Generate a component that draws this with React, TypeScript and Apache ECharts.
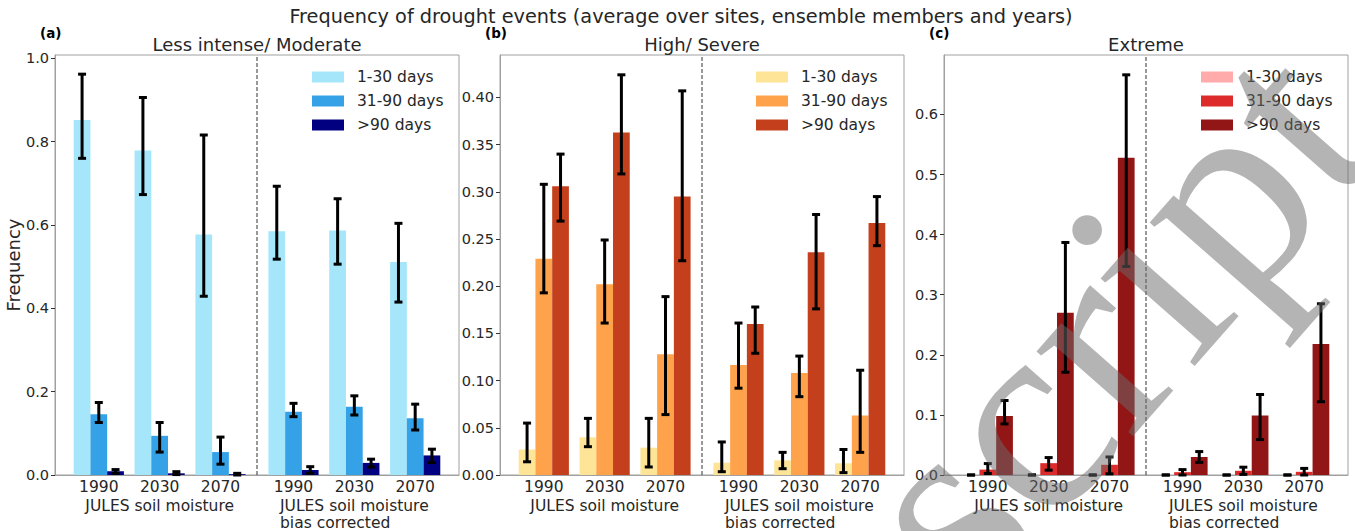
import React, { useEffect, useRef } from "react";
import * as echarts from "echarts";

// ---------- data ----------
const periods = ["1990", "2030", "2070", "1990", "2030", "2070"];
const groupX = [0, 1, 2, 3.2, 4.2, 5.2];
const dividerX = 2.6;
const durations = ["1-30 days", "31-90 days", ">90 days"];
const panelTitles = ["Less intense/ Moderate", "High/ Severe", "Extreme"];
const panelTags = ["(a)", "(b)", "(c)"];
const sourceLabels = ["JULES soil moisture", "JULES soil moisture\nbias corrected"];
const mainTitle = "Frequency of drought events (average over sites, ensemble members and years)";
const watermark = "script";

// (a) Less intense / Moderate
const modShort = [0.852, 0.779, 0.577, 0.585, 0.587, 0.511];
const modShortLo = [0.76, 0.673, 0.429, 0.518, 0.506, 0.415];
const modShortHi = [0.962, 0.906, 0.816, 0.693, 0.663, 0.604];
const modMid = [0.146, 0.094, 0.055, 0.152, 0.164, 0.136];
const modMidLo = [0.126, 0.055, 0.026, 0.14, 0.144, 0.108];
const modMidHi = [0.174, 0.126, 0.091, 0.172, 0.19, 0.17];
const modLong = [0.009, 0.004, 0.002, 0.012, 0.029, 0.047];
const modLongLo = [0.004, 0.001, 0.0, 0.004, 0.019, 0.03];
const modLongHi = [0.013, 0.008, 0.004, 0.02, 0.038, 0.062];

// (b) High / Severe
const sevShort = [0.027, 0.04, 0.029, 0.013, 0.0155, 0.0124];
const sevShortLo = [0.014, 0.03, 0.0085, 0.0035, 0.0067, 0.0025];
const sevShortHi = [0.055, 0.06, 0.06, 0.035, 0.024, 0.027];
const sevMid = [0.229, 0.202, 0.128, 0.1165, 0.108, 0.063];
const sevMidLo = [0.193, 0.161, 0.064, 0.092, 0.083, 0.024];
const sevMidHi = [0.308, 0.249, 0.189, 0.161, 0.126, 0.111];
const sevLong = [0.306, 0.363, 0.295, 0.16, 0.236, 0.267];
const sevLongLo = [0.269, 0.319, 0.227, 0.129, 0.176, 0.243];
const sevLongHi = [0.34, 0.424, 0.407, 0.178, 0.276, 0.295];

// (c) Extreme
const extShort = [0, 0, 0, 0, 0, 0];
const extShortLo = [0, 0, 0, 0, 0, 0];
const extShortHi = [0, 0, 0, 0, 0, 0];
const extMid = [0.009, 0.0197, 0.017, 0.0047, 0.007, 0.0053];
const extMidLo = [0.0025, 0.008, 0.002, 0.0, 0.001, 0.0];
const extMidHi = [0.019, 0.029, 0.03, 0.009, 0.013, 0.011];
const extLong = [0.098, 0.27, 0.528, 0.03, 0.099, 0.218];
const extLongLo = [0.085, 0.171, 0.347, 0.021, 0.059, 0.122];
const extLongHi = [0.124, 0.387, 0.666, 0.039, 0.134, 0.285];

const panels = [
  [
    [modShort, modShortLo, modShortHi],
    [modMid, modMidLo, modMidHi],
    [modLong, modLongLo, modLongHi],
  ],
  [
    [sevShort, sevShortLo, sevShortHi],
    [sevMid, sevMidLo, sevMidHi],
    [sevLong, sevLongLo, sevLongHi],
  ],
  [
    [extShort, extShortLo, extShortHi],
    [extMid, extMidLo, extMidHi],
    [extLong, extLongLo, extLongHi],
  ],
];

const yMax = [1.008, 0.445, 0.699];
const yTicks = [
  [0, 0.2, 0.4, 0.6, 0.8, 1.0],
  [0, 0.05, 0.1, 0.15, 0.2, 0.25, 0.3, 0.35, 0.4],
  [0, 0.1, 0.2, 0.3, 0.4, 0.5, 0.6],
];
const yDecimals = [1, 2, 1];

// ---------- styles ----------
const palette = [
  ["#a6e6fb", "#35a2e8", "#000080"],
  ["#fee497", "#fea34b", "#c4401c"],
  ["#ffabab", "#dd2b2b", "#921616"],
];
const FONT = "DejaVu Sans";
const TXT = "#262626";
const gridLeft = [55, 500, 944];
const gridTop = 55;
const gridW = 404;
const gridH = 420;
const xMin = -0.72;
const xMax = 5.92;
const barW = 0.275;
const offsets = [-barW, 0, barW];
const legendLeft = [312, 756, 1201];

function makeRender(k: number, color: string) {
  return (params: any, api: any) => {
    const x = api.value(0) + offsets[k];
    const v = api.value(1);
    const lo = api.value(2);
    const hi = api.value(3);
    const a = api.coord([x - barW / 2, v]);
    const b = api.coord([x + barW / 2, 0]);
    const pl = api.coord([x, lo]);
    const ph = api.coord([x, hi]);
    const cap = 4;
    const eb = { stroke: "#000", lineWidth: 3 };
    return {
      type: "group",
      children: [
        {
          type: "rect",
          shape: { x: a[0], y: a[1], width: b[0] - a[0], height: b[1] - a[1] },
          style: { fill: color },
        },
        { type: "line", shape: { x1: pl[0], y1: pl[1], x2: ph[0], y2: ph[1] }, style: eb },
        { type: "line", shape: { x1: pl[0] - cap, y1: pl[1], x2: pl[0] + cap, y2: pl[1] }, style: eb },
        { type: "line", shape: { x1: ph[0] - cap, y1: ph[1], x2: ph[0] + cap, y2: ph[1] }, style: eb },
      ],
    };
  };
}

function buildOption() {
  const grid: any[] = [];
  const xAxis: any[] = [];
  const yAxis: any[] = [];
  const series: any[] = [];
  const legend: any[] = [];
  for (let p = 0; p < 3; p++) {
    grid.push({
      left: gridLeft[p],
      top: gridTop,
      width: gridW,
      height: gridH,
      show: true,
      borderColor: "#a0a0a0",
      borderWidth: 1,
      backgroundColor: "transparent",
    });
    xAxis.push({
      type: "value",
      gridIndex: p,
      min: xMin,
      max: xMax,
      splitLine: { show: false },
      axisLine: { show: true, onZero: false, lineStyle: { color: "#a0a0a0" } },
      axisTick: { show: false, customValues: groupX },
      axisLabel: {
        customValues: groupX,
        fontFamily: FONT,
        fontSize: 15.5,
        color: TXT,
        margin: 4,
        formatter: (v: number) => {
          const i = groupX.findIndex((g) => Math.abs(g - v) < 1e-6);
          return i >= 0 ? periods[i] : "";
        },
      },
    });
    const dec = yDecimals[p];
    yAxis.push({
      type: "value",
      gridIndex: p,
      min: 0,
      max: yMax[p],
      splitLine: { show: false },
      axisLine: { show: true, onZero: false, lineStyle: { color: "#a0a0a0" } },
      axisTick: { show: true, length: 4, customValues: yTicks[p], lineStyle: { color: "#333" } },
      axisLabel: {
        customValues: yTicks[p],
        fontFamily: FONT,
        fontSize: 14.5,
        color: TXT,
        margin: 6,
        formatter: (v: number) => v.toFixed(dec),
      },
      name: p === 0 ? "Frequency" : "",
      nameLocation: "middle",
      nameRotate: 90,
      nameGap: 30,
      nameTextStyle: { fontFamily: FONT, fontSize: 18, color: TXT },
    });
    const names: string[] = [];
    for (let k = 0; k < 3; k++) {
      const [vals, lo, hi] = panels[p][k];
      const name = `${p}|${durations[k]}`;
      names.push(name);
      series.push({
        type: "custom",
        name,
        xAxisIndex: p,
        yAxisIndex: p,
        itemStyle: { color: palette[p][k] },
        renderItem: makeRender(k, palette[p][k]),
        encode: { x: 0, y: 1 },
        data: vals.map((v, i) => [groupX[i], v, lo[i], hi[i]]),
        z: 2 + k,
      });
    }
    series.push({
      type: "line",
      xAxisIndex: p,
      yAxisIndex: p,
      data: [
        [dividerX, 0],
        [dividerX, yMax[p]],
      ],
      symbol: "none",
      silent: true,
      lineStyle: { color: "#333", width: 1, type: [4, 2] },
      z: 1,
    });
    legend.push({
      orient: "vertical",
      left: legendLeft[p],
      top: 69,
      padding: 0,
      itemGap: 8,
      itemWidth: 32,
      itemHeight: 11,
      icon: "rect",
      selectedMode: false,
      data: names,
      formatter: (n: string) => n.split("|")[1],
      textStyle: { fontFamily: FONT, fontSize: 15.5, color: TXT, padding: [0, 0, 0, 8], lineHeight: 16 },
    });
  }
  return { animation: false, grid, xAxis, yAxis, series, legend };
}

function measure(text: string, font: string) {
  const c = document.createElement("canvas").getContext("2d")!;
  c.font = font;
  return c.measureText(text).width;
}

function buildGraphics(chart: any) {
  const g: any[] = [];
  g.push({
    type: "text",
    x: 681,
    y: 16,
    style: { text: mainTitle, font: `19.3px "${FONT}"`, fill: TXT, textAlign: "center", textVerticalAlign: "middle" },
  });
  for (let p = 0; p < 3; p++) {
    g.push({
      type: "text",
      x: gridLeft[p] + gridW / 2,
      y: 44,
      style: { text: panelTitles[p], font: `18px "${FONT}"`, fill: TXT, textAlign: "center", textVerticalAlign: "middle" },
    });
    g.push({
      type: "text",
      x: gridLeft[p] - 15,
      y: 33,
      style: { text: panelTags[p], font: `bold 13.5px "${FONT}"`, fill: "#000", textAlign: "left", textVerticalAlign: "middle" },
    });
    for (let s = 0; s < 2; s++) {
      const cx = chart.convertToPixel({ xAxisIndex: p }, groupX[1 + 3 * s]);
      const first = sourceLabels[s].split("\n")[0];
      const w = measure(first, `15.5px "${FONT}"`);
      g.push({
        type: "text",
        x: cx - w / 2,
        y: 497,
        style: {
          text: sourceLabels[s],
          font: `15.5px "${FONT}"`,
          fill: TXT,
          textAlign: "left",
          textVerticalAlign: "top",
          lineHeight: 17,
        },
      });
    }
  }
  // watermark (semi-transparent, on top)
  g.push({
    type: "text",
    x: 1110,
    y: 320,
    rotation: 0.85,
    z: 100,
    silent: true,
    style: {
      text: watermark,
      font: `280px "Liberation Serif"`,
      fill: "rgba(105,105,105,0.5)",
      textAlign: "center",
      textVerticalAlign: "middle",
    },
  });
  return g;
}

export default function App() {
  const ref = useRef<HTMLDivElement>(null);
  useEffect(() => {
    const chart = echarts.init(ref.current!, null, { renderer: "svg" });
    chart.setOption(buildOption());
    chart.setOption({ graphic: buildGraphics(chart) });
    return () => chart.dispose();
  }, []);
  return (
    <div
      ref={ref}
      style={{ position: "fixed", left: 0, top: 0, width: 1355, height: 531, background: "#fff" }}
    />
  );
}
